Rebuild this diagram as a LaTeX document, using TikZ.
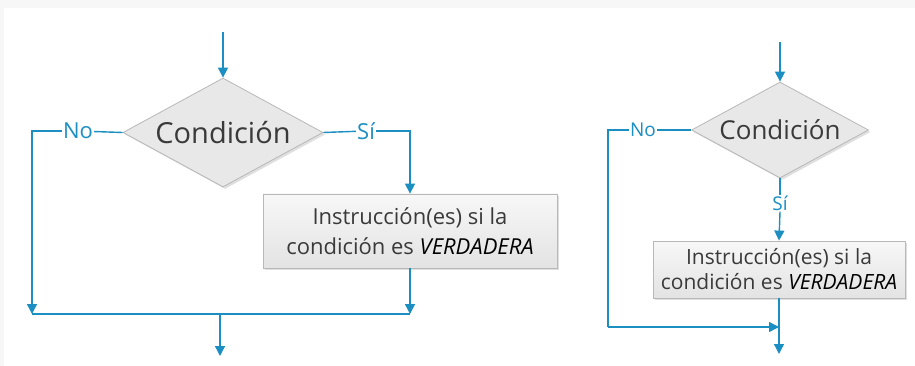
\documentclass[tikz,border=0pt]{standalone}
\usepackage{fontspec}
\setmainfont{Open Sans}
\usetikzlibrary{shapes.geometric,arrows.meta,shadows}
\definecolor{flowblue}{HTML}{1B8EC2}
\definecolor{txtgray}{HTML}{3A3A3A}
\definecolor{shapeline}{HTML}{B8B8B8}
\begin{document}
\begin{tikzpicture}[x=1pt,y=-1pt,
  ln/.style={draw=flowblue,line width=1.4pt},
  arr/.style={ln,-{Triangle[length=10pt,width=10pt]}},
  decision/.style={diamond,draw=shapeline,line width=0.8pt,fill=black!9,inner sep=-5pt,
    shape aspect=1.83,
    drop shadow={shadow xshift=2pt,shadow yshift=-2pt,opacity=0.25},text=txtgray},
  procbox/.style={rectangle,draw=shapeline,line width=0.8pt,top color=black!3,bottom color=black!11,
    inner sep=0pt,align=center,text=txtgray,
    drop shadow={shadow xshift=2pt,shadow yshift=-2pt,opacity=0.25}},
  lbl/.style={fill=white,text=flowblue,inner sep=1pt}]
\useasboundingbox (0,0) rectangle (915,366);
\fill[black!3] (0,0) rectangle (915,366);
\fill[white] (4,8) rectangle (915,366);
% ---------- left diagram ----------
\coordinate (top1) at (223,32);
\node[decision,minimum width=200pt,minimum height=109pt,font=\fontsize{29}{32}\selectfont] (d1) at (223,132.5) {Condición};
\node[procbox,minimum width=294pt,minimum height=74pt,font=\fontsize{22}{30}\selectfont] (b1) at (410,231)
  {Instrucción(es) si la\\condición es \textcolor{black}{\itshape VERDADERA}};
\coordinate (jL1) at (32,314);
\coordinate (jR1) at (410,314);
\coordinate (jM1) at (220,314);
\coordinate (end1) at (220,356);
\draw[arr] (top1) -- (d1.north);
\draw[ln] (d1.west) -- (78,131);
\draw[ln] (d1.east) -- (365,131);
\node[lbl,font=\fontsize{22}{24}\selectfont] (no1) at (78,131) {No};
\node[lbl,font=\fontsize{22}{24}\selectfont] (si1) at (366,131) {Sí};
\draw[arr] (no1.west) -| (jL1);
\draw[arr] (si1.east) -| (b1.north);
\draw[arr] (b1.south) -- (jR1);
\draw[ln] (jL1) -- (jR1);
\draw[arr] (jM1) -- (end1);
% ---------- right diagram ----------
\coordinate (top2) at (780,42);
\node[decision,minimum width=177pt,minimum height=96pt,font=\fontsize{26}{29}\selectfont] (d2) at (780,130) {Condición};
\node[procbox,minimum width=252pt,minimum height=57pt,font=\fontsize{21}{25}\selectfont] (b2) at (779,269.5)
  {Instrucción(es) si la\\condición es \textcolor{black}{\itshape VERDADERA}};
\coordinate (jL2) at (608,327);
\coordinate (j2) at (779,327);
\coordinate (end2) at (779,354);
\draw[arr] (top2) -- (d2.north);
\draw[ln] (d2.west) -- (643,130);
\draw[ln] (d2.south) -- (780,203);
\node[lbl,font=\fontsize{19}{21}\selectfont] (no2) at (643,130) {No};
\node[lbl,font=\fontsize{19}{21}\selectfont] (si2) at (780,203) {Sí};
\draw[arr] (si2.south) -- (b2.north);
\draw[ln] (no2.west) -| (jL2);
\draw[arr] (jL2) -- (j2);
\draw[arr] (b2.south) -- (end2);
\end{tikzpicture}
\end{document}
